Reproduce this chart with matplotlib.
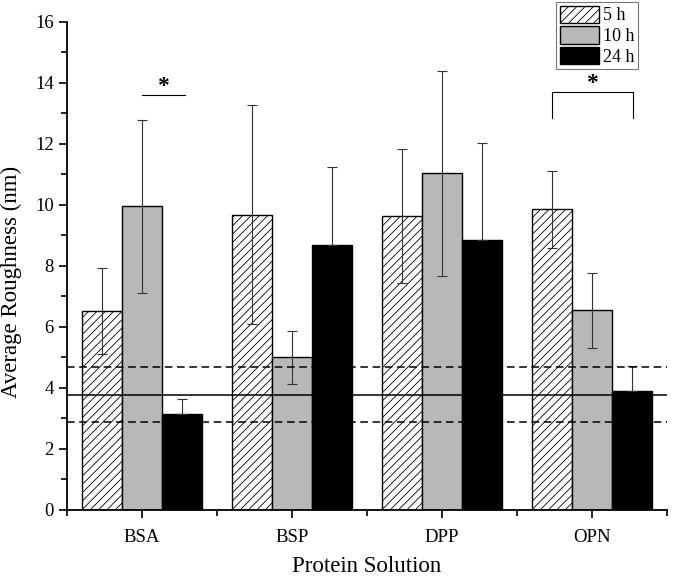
import numpy as np
import matplotlib
matplotlib.use("Agg")
import matplotlib.pyplot as plt
from matplotlib.ticker import MultipleLocator, FixedLocator

plt.rcParams['font.family'] = ['Liberation Serif', 'DejaVu Serif']
plt.rcParams['hatch.linewidth'] = 0.6

proteins = ['BSA', 'BSP', 'DPP', 'OPN']
times = ['5 h', '10 h', '24 h']
mean_5h = [6.52, 9.68, 9.63, 9.85]
err_5h = [1.42, 3.6, 2.2, 1.25]
mean_10h = [9.95, 5.0, 11.03, 6.55]
err_10h = [2.85, 0.86, 3.37, 1.23]
mean_24h = [3.15, 8.68, 8.85, 3.88]
err_24h = [0.5, 2.57, 3.18, 0.84]
control_mean = 3.78
control_sd = 0.9

fig = plt.figure(figsize=(6.75, 5.78), dpi=100)
ax = fig.add_axes([0.0993, 0.118, 0.8889, 0.844])

x = np.arange(1, len(proteins) + 1)
w = 0.267
styles = [dict(color='white', hatch='////'), dict(color='#b8b8b8'), dict(color='black')]
for i, (m, e) in enumerate([(mean_5h, err_5h), (mean_10h, err_10h), (mean_24h, err_24h)]):
    pos = x + (i - 1) * w
    ax.bar(pos, m, w, edgecolor='black', linewidth=1.0, label=times[i], zorder=2, **styles[i])
    yerr = [np.zeros(len(e)), e] if i == 2 else e
    ax.errorbar(pos, m, yerr=yerr, fmt='none', ecolor='#333333', elinewidth=0.8,
                capsize=3.6, capthick=0.8, zorder=3)

ax.axhline(control_mean, color='black', lw=1.1, zorder=4)
ax.axhline(control_mean + control_sd, color='black', lw=1.1, ls=(0, (5, 3)), zorder=4)
ax.axhline(control_mean - control_sd, color='black', lw=1.1, ls=(0, (5, 3)), zorder=4)

# significance marks
ax.plot([1.0, 1.287], [13.6, 13.6], color='black', lw=0.8)
ax.text(1.14, 13.55, '*', ha='center', va='bottom', fontsize=17, fontweight='bold')
ax.plot([3.733, 3.733, 4.273, 4.273], [12.85, 13.7, 13.7, 12.85], color='black', lw=0.8)
ax.text(4.0, 13.65, '*', ha='center', va='bottom', fontsize=17, fontweight='bold')

ax.set_xlim(0.5, 4.5)
ax.set_ylim(0, 16)
ax.set_xticks(x)
ax.set_xticklabels(proteins)
ax.xaxis.set_minor_locator(FixedLocator([0.5, 1.5, 2.5, 3.5, 4.5]))
ax.yaxis.set_major_locator(MultipleLocator(2))
ax.yaxis.set_minor_locator(MultipleLocator(1))
ax.tick_params(axis='both', which='major', direction='out', length=6, width=1.2, labelsize=13.5)
ax.tick_params(axis='x', which='major', pad=8)
ax.tick_params(axis='both', which='minor', direction='out', length=4, width=1.2)
for s in ['top', 'right']:
    ax.spines[s].set_visible(False)
for s in ['left', 'bottom']:
    ax.spines[s].set_linewidth(1.3)

ax.set_ylabel('Average Roughness (nm)', fontsize=16.5)
ax.yaxis.set_label_coords(-0.075, 0.467)
ax.set_xlabel('Protein Solution', fontsize=16.5, labelpad=7)

leg = ax.legend(loc='upper right', bbox_to_anchor=(0.951, 1.041), fontsize=13,
                fancybox=False, edgecolor='#555555', handlelength=2.15, handleheight=1.1,
                handletextpad=0.2, borderpad=0.2, labelspacing=0.1, borderaxespad=0)
leg.get_frame().set_linewidth(0.8)

fig.savefig('out.png', dpi=100)
